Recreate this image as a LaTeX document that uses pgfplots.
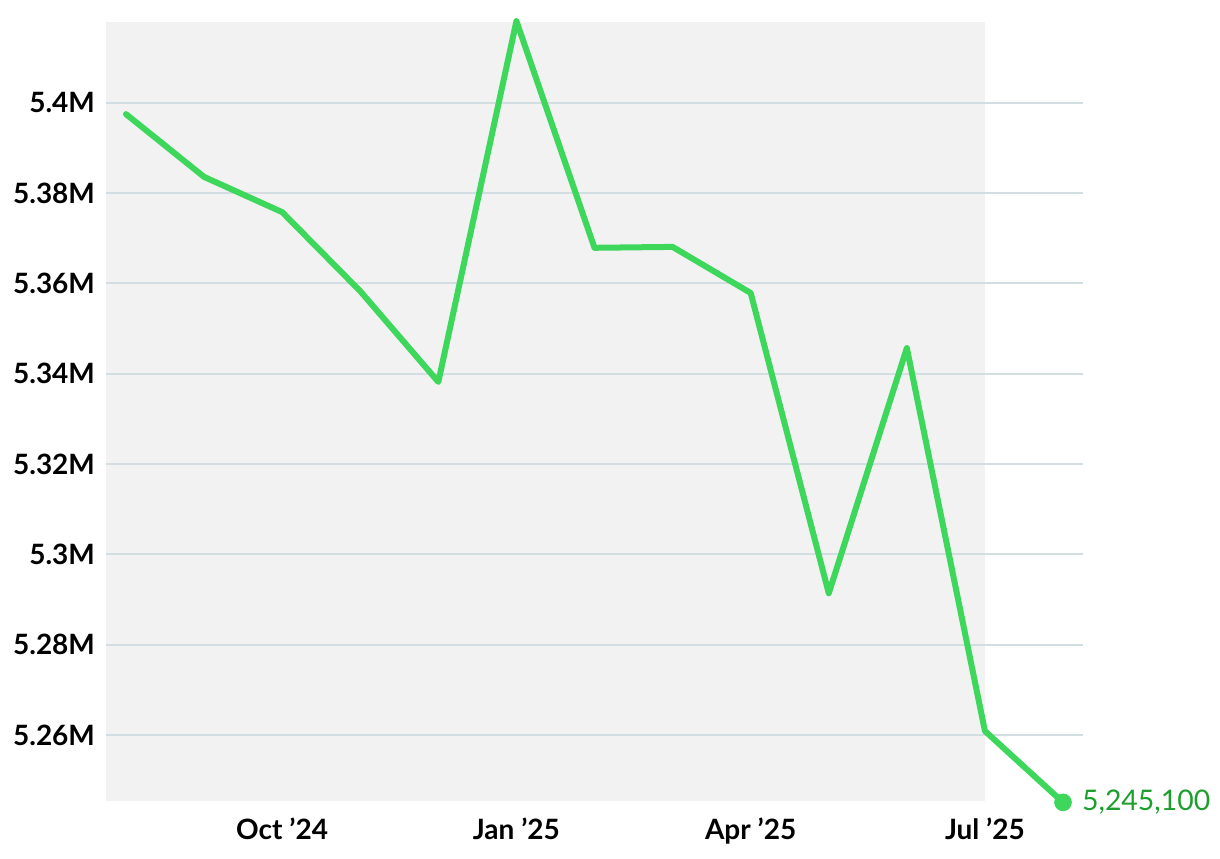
\documentclass[border=0pt]{standalone}
\usepackage{pgfplots}
\pgfplotsset{compat=1.18}
\usepackage{fontspec}
\setmainfont{Lato}
\definecolor{linegreen}{HTML}{3DD75C}
\definecolor{labelgreen}{HTML}{1E9E2E}
\definecolor{gridc}{HTML}{D3DEE2}
\definecolor{shade}{HTML}{F2F2F2}
\newcommand\lastlabel{5,245,100}
\begin{document}
\begin{tikzpicture}
\begin{axis}[
  set layers,
  scale only axis,
  width=488.5pt, height=389.5pt,
  xmin=-0.256, xmax=12.256,
  ymin=5.2454, ymax=5.4179,
  clip=false,
  axis line style={draw=none},
  major tick length=0pt,
  xtick={2,5,8,11},
  xticklabels={Oct ’24, Jan ’25, Apr ’25, Jul ’25},
  ytick={5.26,5.28,5.30,5.32,5.34,5.36,5.38,5.40},
  yticklabels={5.26M,5.28M,5.3M,5.32M,5.34M,5.36M,5.38M,5.4M},
  ymajorgrids,
  y grid style={gridc, line width=1pt},
  tick label style={font=\fontsize{14}{16}\selectfont\bfseries},
  yticklabel style={xshift=-2pt},
  xticklabel style={yshift=-5pt},
]
\addplot[fill=shade, draw=none, on layer=axis background] coordinates {
(-0.256,5.2454) (11,5.2454) (11,5.4179) (-0.256,5.4179)} -- cycle;
\addplot[linegreen, line width=3pt, line join=round, line cap=round] coordinates {
(0,5.3975) (1,5.3836) (2,5.3758) (3,5.3583) (4,5.3382) (5,5.4181)
(6,5.3679) (7,5.3681) (8,5.3579) (9,5.2914) (10,5.3457) (11,5.2609) (12,5.2451)
};
\addplot[only marks, mark=*, mark size=4.2pt, color=linegreen, nodes near coords={\lastlabel},
  every node near coord/.style={anchor=west, xshift=6pt, font=\fontsize{14.2}{16}\selectfont, text=labelgreen}]
  coordinates {(12,5.2451)};
\end{axis}
\pgfresetboundingbox
\path[use as bounding box] (-53pt,-28.5pt) rectangle (557pt,400.5pt);
\end{tikzpicture}
\end{document}
